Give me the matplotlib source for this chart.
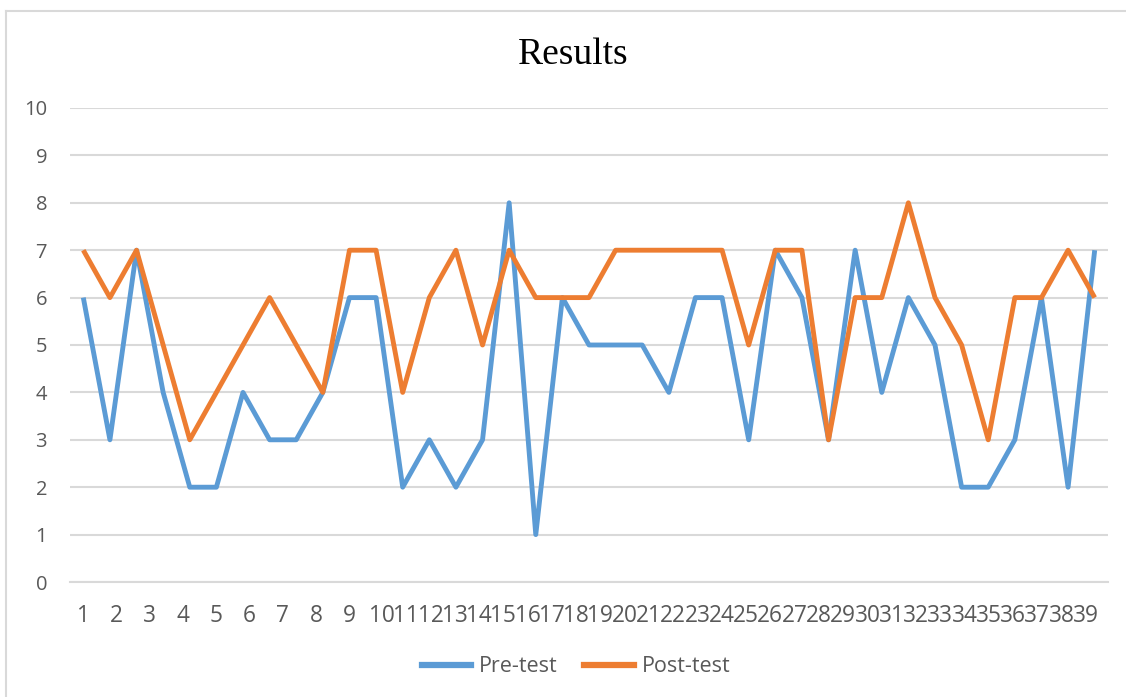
import matplotlib
matplotlib.use("Agg")
import matplotlib.pyplot as plt
from matplotlib.lines import Line2D

# ---- data ----
categories = list(range(1, 40))
pre_test = [6, 3, 7, 4, 2, 2, 4, 3, 3, 4, 6, 6, 2, 3, 2, 3, 8, 1, 6, 5,
            5, 5, 4, 6, 6, 3, 7, 6, 3, 7, 4, 6, 5, 2, 2, 3, 6, 2, 7]
post_test = [7, 6, 7, 5, 3, 4, 5, 6, 5, 4, 7, 7, 4, 6, 7, 5, 7, 6, 6, 6,
             7, 7, 7, 7, 7, 5, 7, 7, 3, 6, 6, 8, 6, 5, 3, 6, 6, 7, 6]
tick_labels = [str(c) for c in categories]
y_ticks = list(range(0, 11))
title = "Results"
series_names = ["Pre-test", "Post-test"]

BLUE = "#5B9BD5"
ORANGE = "#ED7D31"
GRID = "#D9D9D9"
TXT = "#595959"

W, H = 1126, 697
fig = plt.figure(figsize=(W / 100, H / 100), dpi=100)

# outer chart border (light gray)
fig.add_artist(Line2D([5.5 / W, 5.5 / W], [0, 1 - 11 / H], transform=fig.transFigure,
                      color=GRID, lw=1.5))
fig.add_artist(Line2D([5.5 / W, 1], [1 - 11 / H, 1 - 11 / H], transform=fig.transFigure,
                      color=GRID, lw=1.5))

left, right = 70, 1108
top, bottom = 108, 582
ax = fig.add_axes([left / W, 1 - bottom / H, (right - left) / W, (bottom - top) / H])

ax.plot(categories, pre_test, color=BLUE, lw=3.5, solid_joinstyle="round",
        solid_capstyle="butt", zorder=3)
ax.plot(categories, post_test, color=ORANGE, lw=3.5, solid_joinstyle="round",
        solid_capstyle="butt", zorder=4)

ax.set_xlim(0.5, len(categories) + 0.5)
ax.set_ylim(0, 10)
ax.set_yticks(y_ticks)
ax.grid(axis="y", color=GRID, lw=1.5, zorder=0)
ax.set_axisbelow(True)
for s in ["top", "right", "left"]:
    ax.spines[s].set_visible(False)
ax.spines["bottom"].set_color(GRID)
ax.spines["bottom"].set_linewidth(1.5)

font = "Open Sans"
ax.tick_params(axis="y", length=0, pad=16.5, labelsize=14.5, labelcolor=TXT)
for lab in ax.get_yticklabels():
    lab.set_fontfamily(font)

# x-axis labels laid out as in the reference (single digits spread, two-digit ones packed)
xpos = []
for c in categories:
    if c < 10:
        xpos.append(1 + 1.25 * (c - 1))
    else:
        xpos.append(12.22 + 0.912 * (c - 10))
ax.set_xticks(xpos)
ax.set_xticklabels(tick_labels, fontfamily=font)
ax.tick_params(axis="x", length=0, pad=16, labelsize=16.3, labelcolor=TXT)

fig.text(573 / W, 1 - 55 / H, title, ha="center", va="center",
         fontfamily="Liberation Serif", fontsize=27, color="black")

handles = [Line2D([], [], color=BLUE, lw=4.5), Line2D([], [], color=ORANGE, lw=4.5)]
leg = fig.legend(handles, series_names, loc="center", bbox_to_anchor=(576 / W, 1 - 667 / H),
                 ncol=2, frameon=False, handlelength=2.3, handletextpad=0.35,
                 columnspacing=1.25, prop={"family": font, "size": 15.5})
for t in leg.get_texts():
    t.set_color(TXT)

fig.savefig("out.png", dpi=100)
